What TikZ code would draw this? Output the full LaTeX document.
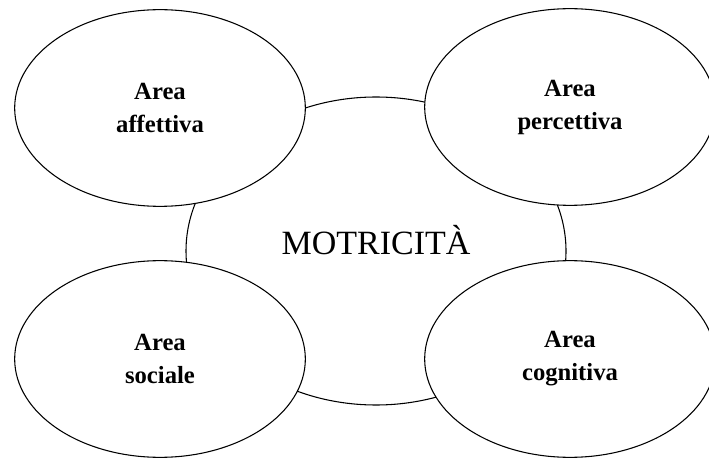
\documentclass[tikz,border=0pt]{standalone}
\usepackage{fontspec}
\setmainfont{Liberation Serif}
\usetikzlibrary{shapes.geometric}

\begin{document}
\begin{tikzpicture}[x=0.75pt,y=-0.75pt,
        nucleo/.style={ellipse, draw, line width=0.8pt, minimum width=285pt, minimum height=231pt},
        area/.style={ellipse, draw, fill=white, line width=0.8pt, minimum width=218pt, minimum height=147.5pt,
            align=center, font=\fontsize{18.5}{24.75}\selectfont\bfseries}]
        \useasboundingbox (0,0) rectangle (709,459);

        % ellisse centrale
        \node[nucleo] (mot) at (376,251) {};
        \node[anchor=base, font=\fontsize{25.5}{30}\selectfont] (motxt) at (376,255) {MOTRICITÀ};

        % le quattro aree
        \node[area] (aff) at (160,108) {Area\\affettiva};
        \node[area] (perc) at (570,107) {Area\\percettiva};
        \node[area] (soc) at (160,359) {Area\\sociale};
        \node[area] (cogn) at (570,359) {Area\\cognitiva};
    \end{tikzpicture}
\end{document}
